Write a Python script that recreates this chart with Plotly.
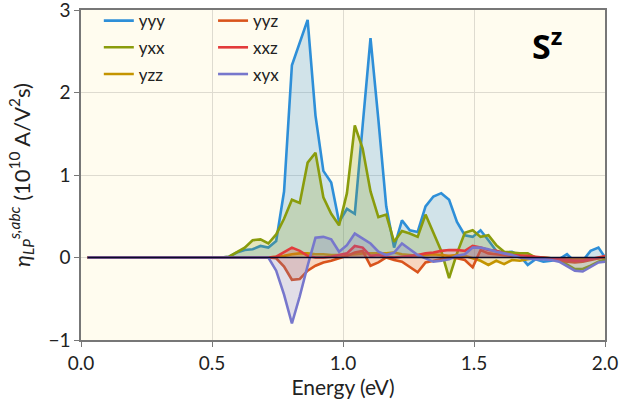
import plotly.graph_objects as go

# Photon energy grid (eV)
energy = [
    0.025, 0.055, 0.085, 0.115, 0.145, 0.175, 0.205, 0.235, 0.265, 0.295,
    0.325, 0.355, 0.385, 0.415, 0.445, 0.475, 0.505, 0.535, 0.565, 0.595,
    0.625, 0.655, 0.685, 0.715, 0.745, 0.775, 0.805, 0.835, 0.865, 0.895,
    0.925, 0.955, 0.985, 1.015, 1.045, 1.075, 1.105, 1.135, 1.165, 1.195,
    1.225, 1.255, 1.285, 1.315, 1.345, 1.375, 1.405, 1.435, 1.465, 1.495,
    1.525, 1.555, 1.585, 1.615, 1.645, 1.675, 1.705, 1.735, 1.765, 1.795,
    1.825, 1.855, 1.885, 1.915, 1.945, 1.975, 2.005,
]

below_gap = [0.0] * 18  # no response below ~0.56 eV

yyy = below_gap + [
    0.01, 0.06, 0.09, 0.10, 0.14, 0.12, 0.20, 0.80, 2.33, 2.61,
    2.88, 1.72, 1.05, 0.91, 0.43, 0.59, 0.53, 1.60, 2.66, 1.67,
    0.62, 0.12, 0.45, 0.33, 0.31, 0.62, 0.74, 0.78, 0.70, 0.43,
    0.27, 0.25, 0.33, 0.21, 0.08, 0.06, 0.07, 0.02, -0.09, -0.02,
    -0.05, -0.04, -0.02, 0.04, -0.05, -0.04, 0.08, 0.12, -0.02,
]
yxx = below_gap + [
    0.01, 0.06, 0.12, 0.21, 0.22, 0.17, 0.28, 0.47, 0.70, 0.66,
    1.15, 1.27, 0.73, 0.53, 0.39, 0.78, 1.60, 1.32, 0.80, 0.49,
    0.52, 0.19, 0.32, 0.29, 0.25, 0.52, 0.30, 0.08, -0.25, 0.05,
    0.30, 0.33, 0.25, 0.27, 0.15, 0.07, 0.06, 0.05, 0.05, 0.00,
    -0.01, -0.01, -0.03, -0.08, -0.14, -0.14, -0.10, -0.05, -0.02,
]
yzz = below_gap + [
    0.00, 0.00, 0.00, 0.00, 0.00, 0.00, 0.01, 0.02, 0.04, 0.05,
    0.05, 0.04, 0.04, 0.03, 0.03, 0.03, 0.04, 0.05, 0.05, 0.05,
    0.05, 0.06, 0.04, 0.03, 0.02, 0.03, 0.04, 0.03, 0.02, 0.03,
    0.02, -0.01, -0.04, -0.09, -0.04, -0.08, -0.03, -0.04, -0.02, -0.01,
    0.00, -0.01, -0.01, -0.02, -0.02, -0.02, -0.01, -0.01, 0.00,
]
yyz = below_gap + [
    0.00, 0.00, 0.00, 0.00, 0.00, 0.00, -0.01, -0.11, -0.27, -0.26,
    -0.16, -0.10, -0.06, -0.04, -0.01, 0.02, 0.06, 0.08, -0.10, -0.06,
    0.00, -0.03, -0.05, -0.12, -0.18, -0.06, -0.04, -0.02, 0.00, -0.01,
    -0.03, -0.12, 0.09, 0.05, 0.04, 0.03, 0.02, 0.02, 0.01, 0.00,
    -0.01, -0.02, -0.03, -0.05, -0.06, -0.05, -0.03, -0.01, 0.01,
]
xxz = below_gap + [
    0.00, 0.00, 0.00, 0.00, 0.00, 0.00, 0.01, 0.07, 0.12, 0.08,
    0.02, 0.00, 0.00, 0.01, 0.03, 0.05, 0.14, 0.12, 0.02, 0.03,
    0.01, 0.00, 0.01, 0.02, 0.03, 0.05, 0.06, 0.08, 0.09, 0.09,
    0.08, 0.14, 0.12, 0.09, 0.08, 0.05, 0.03, 0.02, 0.02, 0.01,
    0.00, -0.01, -0.02, -0.03, -0.04, -0.04, -0.02, 0.00, 0.02,
]
xyx = below_gap + [
    0.00, 0.00, 0.00, 0.00, 0.00, 0.00, -0.16, -0.45, -0.80, -0.47,
    -0.10, 0.24, 0.25, 0.22, 0.07, 0.15, 0.29, 0.23, 0.17, 0.07,
    0.03, 0.06, 0.17, 0.10, 0.03, -0.01, -0.05, -0.04, -0.02, 0.02,
    0.04, 0.12, 0.12, 0.10, 0.07, 0.05, 0.03, 0.00, -0.01, -0.02,
    -0.02, -0.03, -0.05, -0.10, -0.16, -0.17, -0.12, -0.06, -0.05,
]

components = [
    ("yyy", yyy, "#2e8fd8", "legend"),
    ("yxx", yxx, "#8a9c0c", "legend"),
    ("yzz", yzz, "#c49400", "legend"),
    ("yyz", yyz, "#d9541c", "legend2"),
    ("xxz", xxz, "#e33b3b", "legend2"),
    ("xyx", xyx, "#7777cc", "legend2"),
]

x_ticks = [0.0, 0.5, 1.0, 1.5, 2.0]
y_ticks = [-1, 0, 1, 2, 3]


def rgba(hex_color, alpha):
    h = hex_color.lstrip("#")
    r, g, b = int(h[0:2], 16), int(h[2:4], 16), int(h[4:6], 16)
    return f"rgba({r},{g},{b},{alpha})"


fig = go.Figure()
for name, values, color, leg in components:
    # shaded area between the curve and zero
    fig.add_trace(go.Scatter(
        x=energy, y=values, mode="lines", line=dict(width=0, color=color),
        fill="tozeroy", fillcolor=rgba(color, 0.22),
        showlegend=False, hoverinfo="skip",
    ))
    # the curve itself
    fig.add_trace(go.Scatter(
        x=energy, y=values, name=name, mode="lines",
        line=dict(color=color, width=2.6),
        legend=leg, legendgroup=name,
    ))

# zero reference line over the curves
fig.add_trace(go.Scatter(
    x=[energy[0], 2.0], y=[0, 0], mode="lines",
    line=dict(color="#0a0a28", width=1.3), showlegend=False, hoverinfo="skip",
))

FONT = "Lato"
legend_style = dict(
    font=dict(family=FONT, size=17, color="#222"),
    bgcolor="rgba(0,0,0,0)", borderwidth=0,
    tracegroupgap=1.6, yanchor="top", xanchor="left",
)

fig.update_layout(
    width=621, height=407,
    margin=dict(l=81, r=16, t=10, b=67, autoexpand=False),
    paper_bgcolor="white",
    plot_bgcolor="#fffcef",
    font=dict(family=FONT, size=19, color="#222"),
    legend=dict(x=0.034, y=1.021, **legend_style),
    legend2=dict(x=0.252, y=1.021, **legend_style),
    xaxis=dict(
        range=[0, 2.0], tickvals=x_ticks, tickformat=".1f",
        showgrid=True, gridcolor="#dedbd0", gridwidth=1,
        showline=True, linecolor="#777", linewidth=1.5, mirror=True,
        ticks="outside", ticklen=5, tickcolor="#777",
        zeroline=False, ticklabeloverflow="allow",
        title=dict(text="Energy (eV)", font=dict(size=21), standoff=4),
    ),
    yaxis=dict(
        range=[-1, 3], tickvals=y_ticks,
        showgrid=True, gridcolor="#dedbd0", gridwidth=1,
        showline=True, linecolor="#777", linewidth=1.5, mirror=True,
        ticks="outside", ticklen=5, tickcolor="#777",
        zeroline=False, ticklabeloverflow="allow",
        title=dict(
            text="<i>η</i><sub><i>LP</i></sub><sup><i>s,abc</i></sup> (10<sup>10</sup> A/V<sup>2</sup>s)",
            font=dict(size=22), standoff=12,
        ),
    ),
    annotations=[dict(
        text="<b>S<sup>z</sup></b>", xref="paper", yref="paper",
        x=0.89, y=0.895, xanchor="center", yanchor="middle",
        showarrow=False, font=dict(family="Open Sans", size=34, color="black"),
    )],
)

fig.write_html("out.html")
